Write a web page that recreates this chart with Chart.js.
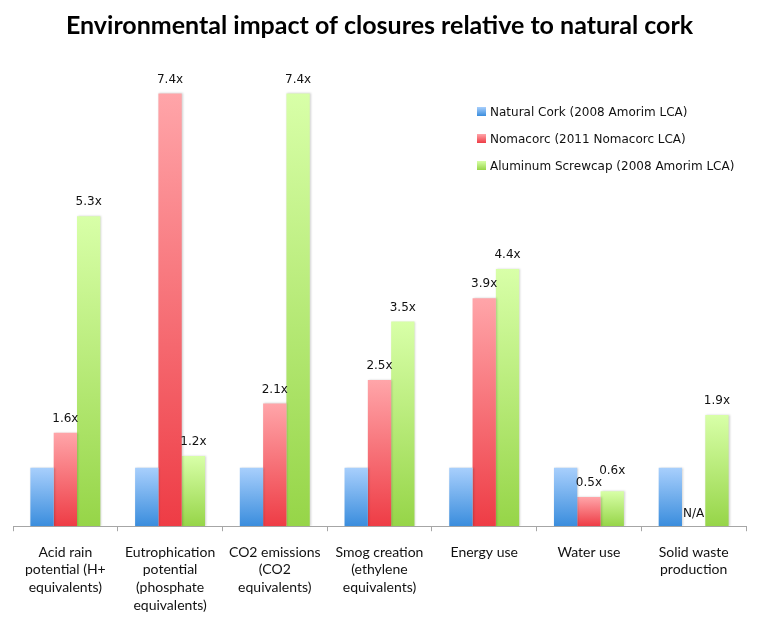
<!DOCTYPE html>
<html>
<head>
<meta charset="utf-8">
<script src="https://cdn.jsdelivr.net/npm/chart.js@4.4.1/dist/chart.umd.min.js"></script>
<style>
  html, body { margin: 0; padding: 0; background: #fff; }
  #wrap { position: relative; width: 768px; height: 617px; }
  #legend { position: absolute; left: 477px; top: 103px; font-family: "DejaVu Sans", sans-serif; font-size: 12px; color: #111; }
  #legend .row { height: 27px; line-height: 18px; white-space: nowrap; }
  #legend .box { display: inline-block; width: 9px; height: 9px; margin-right: 4px; vertical-align: 0px; }
</style>
</head>
<body>
<div id="wrap">
  <canvas id="chart" width="768" height="617"></canvas>
  <div id="legend"></div>
</div>
<script>
// categories (x axis labels, split in lines like the original)
const categories = [
  ['Acid rain', 'potential (H+', 'equivalents)'],
  ['Eutrophication', 'potential', '(phosphate', 'equivalents)'],
  ['CO2 emissions', '(CO2', 'equivalents)'],
  ['Smog creation', '(ethylene', 'equivalents)'],
  ['Energy use'],
  ['Water use'],
  ['Solid waste', 'production']
];

const seriesNames = [
  'Natural Cork (2008 Amorim LCA)',
  'Nomacorc (2011 Nomacorc LCA)',
  'Aluminum Screwcap (2008 Amorim LCA)'
];

// impact relative to natural cork (null = not available)
const naturalCork = [1, 1, 1, 1, 1, 1, 1];
const nomacorc = [1.6, 7.4, 2.1, 2.5, 3.9, 0.5, null];
const screwcap = [5.3, 1.2, 7.4, 3.5, 4.4, 0.6, 1.9];

const topColors = ['#a8cffc', '#ffa5a9', '#d8ffa8'];
const bottomColors = ['#3a8ddd', '#ee3c45', '#96d548'];

// only the two alternative closures get value labels
const labelledSeries = [false, true, true];

function barGradient(ctx, i) {
  const chart = ctx.chart;
  const y = chart.scales && chart.scales.y;
  if (!chart.chartArea || !y || ctx.raw == null) return bottomColors[i];
  const top = y.getPixelForValue(ctx.raw);
  const base = y.getPixelForValue(0);
  const g = chart.ctx.createLinearGradient(0, top, 0, base);
  g.addColorStop(0, topColors[i]);
  g.addColorStop(1, bottomColors[i]);
  return g;
}

// soft shadow on the bars, like the original
const barShadow = {
  id: 'barShadow',
  beforeDatasetDraw(chart) {
    const ctx = chart.ctx;
    ctx.save();
    ctx.shadowColor = 'rgba(0,0,0,0.18)';
    ctx.shadowBlur = 2;
    ctx.shadowOffsetX = 1;
    ctx.shadowOffsetY = 0;
  },
  afterDatasetDraw(chart) {
    chart.ctx.restore();
  }
};

const valueLabels = {
  id: 'valueLabels',
  afterDatasetsDraw(chart) {
    const ctx = chart.ctx;
    const base = chart.scales.y.getPixelForValue(0);
    ctx.save();
    ctx.font = '12px "DejaVu Sans", sans-serif';
    ctx.fillStyle = '#111';
    ctx.textAlign = 'center';
    ctx.textBaseline = 'middle';
    categories.forEach((c, j) => {
      let prev = null;
      chart.data.datasets.forEach((ds, i) => {
        if (!labelledSeries[i]) return;
        const bar = chart.getDatasetMeta(i).data[j];
        const v = ds.data[j];
        let text, y;
        if (v == null) {
          text = 'N/A';
          y = base - 12;
        } else {
          text = v.toFixed(1) + 'x';
          y = bar.y - 14;
        }
        const w = ctx.measureText(text).width;
        const box = { l: bar.x - w / 2, r: bar.x + w / 2, t: y - 7, b: y + 7 };
        if (prev && box.l < prev.r && box.t < prev.b && box.b > prev.t) {
          y -= 6;
          box.t -= 6; box.b -= 6;
        }
        ctx.fillText(text, bar.x, y);
        prev = box;
      });
    });
    ctx.restore();
  }
};

const datasets = [naturalCork, nomacorc, screwcap].map((d, i) => ({
  label: seriesNames[i],
  data: d,
  backgroundColor: (c) => barGradient(c, i),
  borderWidth: 0,
  barPercentage: 1.0,
  categoryPercentage: 0.668
}));

new Chart(document.getElementById('chart'), {
  type: 'bar',
  data: { labels: categories, datasets: datasets },
  plugins: [barShadow, valueLabels],
  options: {
    responsive: false,
    animation: false,
    layout: { padding: { left: 13, right: 22, top: 0, bottom: -9 } },
    plugins: {
      legend: { display: false },
      tooltip: { enabled: false },
      title: {
        display: true,
        text: 'Environmental impact of closures relative to natural cork',
        color: '#000',
        font: { family: 'Lato', size: 25, weight: 'bold' },
        padding: { top: 11, bottom: 17.4 }
      }
    },
    scales: {
      x: {
        grid: { display: true, drawOnChartArea: false, offset: true, tickLength: 5, color: '#a6a6a6' },
        border: { display: true, color: '#a6a6a6', width: 1 },
        ticks: {
          color: '#111',
          font: { family: 'Lato', size: 14, lineHeight: 1.264 },
          padding: 12,
          maxRotation: 0,
          autoSkip: false
        }
      },
      y: { display: false, min: 0, max: 8 }
    }
  }
});

// legend drawn as html, placed inside the plot area like the original
const legend = document.getElementById('legend');
seriesNames.forEach((name, i) => {
  const row = document.createElement('div');
  row.className = 'row';
  const box = document.createElement('span');
  box.className = 'box';
  box.style.background = 'linear-gradient(' + topColors[i] + ', ' + bottomColors[i] + ')';
  row.appendChild(box);
  row.appendChild(document.createTextNode(name));
  legend.appendChild(row);
});
</script>
</body>
</html>
